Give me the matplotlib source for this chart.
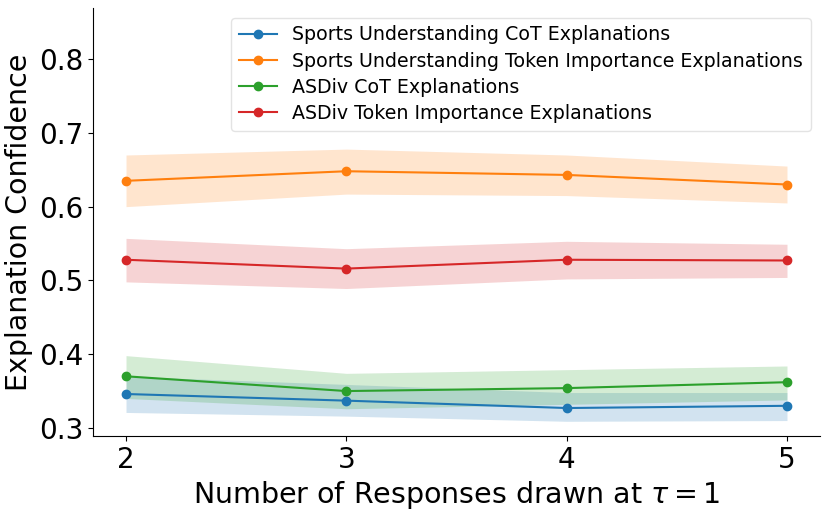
import matplotlib
matplotlib.use("Agg")
import matplotlib.pyplot as plt

# number of responses drawn
responses = [2, 3, 4, 5]

# mean confidence per series
sports_cot = [0.346, 0.337, 0.327, 0.330]
sports_cot_lo = [0.321, 0.316, 0.309, 0.310]
sports_cot_hi = [0.370, 0.359, 0.348, 0.348]

sports_tok = [0.635, 0.648, 0.643, 0.630]
sports_tok_lo = [0.600, 0.617, 0.615, 0.605]
sports_tok_hi = [0.670, 0.678, 0.670, 0.655]

asdiv_cot = [0.370, 0.350, 0.354, 0.362]
asdiv_cot_lo = [0.340, 0.326, 0.332, 0.338]
asdiv_cot_hi = [0.398, 0.374, 0.379, 0.384]

asdiv_tok = [0.528, 0.516, 0.528, 0.527]
asdiv_tok_lo = [0.498, 0.489, 0.502, 0.504]
asdiv_tok_hi = [0.557, 0.543, 0.553, 0.549]

labels = ["Sports Understanding CoT Explanations",
          "Sports Understanding Token Importance Explanations",
          "ASDiv CoT Explanations",
          "ASDiv Token Importance Explanations"]

series = [(sports_cot, sports_cot_lo, sports_cot_hi),
          (sports_tok, sports_tok_lo, sports_tok_hi),
          (asdiv_cot, asdiv_cot_lo, asdiv_cot_hi),
          (asdiv_tok, asdiv_tok_lo, asdiv_tok_hi)]
colors = ["#1f77b4", "#ff7f0e", "#2ca02c", "#d62728"]

fig, ax = plt.subplots(figsize=(8.3, 5.13), dpi=100)

for (mean, lo, hi), lab, c in zip(series, labels, colors):
    ax.plot(responses, mean, marker="o", color=c, label=lab, linewidth=1.5, markersize=6)
    ax.fill_between(responses, lo, hi, color=c, alpha=0.2, linewidth=0)

ax.set_xticks(responses)
ax.set_yticks([0.3, 0.4, 0.5, 0.6, 0.7, 0.8])
ax.tick_params(labelsize=20)
ax.set_ylim(0.289, 0.869)
ax.set_xlabel(r"Number of Responses drawn at $\tau=1$", fontsize=20.5)
ax.set_ylabel("Explanation Confidence", fontsize=20.5)
ax.spines["top"].set_visible(False)
ax.spines["right"].set_visible(False)
leg = ax.legend(loc="upper right", fontsize=13.7, labelspacing=0.38)
leg.get_frame().set_edgecolor("#dddddd")

plt.subplots_adjust(left=0.112, right=0.988, top=0.984, bottom=0.15)
plt.savefig("out.png", dpi=100)
